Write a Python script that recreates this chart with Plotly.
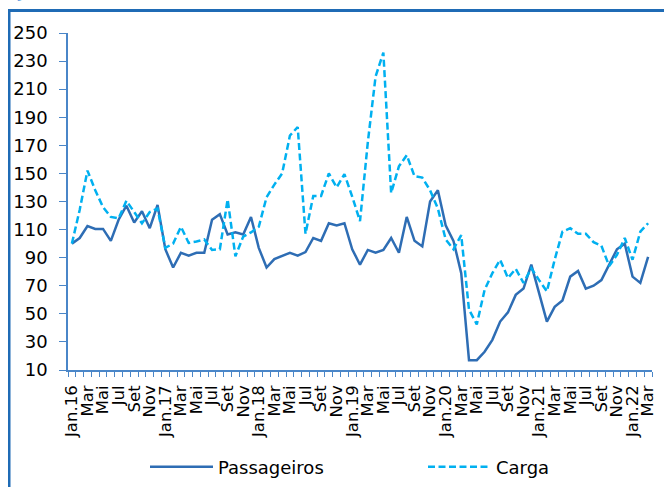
import plotly.graph_objects as go

# Monthly index values, Jan.2016 = 100
meses = ["Jan.16", "Mar", "Mai", "Jul", "Set", "Nov",
         "Jan.17", "Mar", "Mai", "Jul", "Set", "Nov",
         "Jan.18", "Mar", "Mai", "Jul", "Set", "Nov",
         "Jan.19", "Mar", "Mai", "Jul", "Set", "Nov",
         "Jan.20", "Mar", "Mai", "Jul", "Set", "Nov",
         "Jan.21", "Mar", "Mai", "Jul", "Set", "Nov",
         "Jan.22", "Mar"]

passageiros = [100, 104, 112.5, 110.5, 110.5, 102, 117, 127, 115, 123, 111, 127.5,
               96, 83, 93.5, 91.5, 93.5, 93.5, 117, 121, 106.5, 108, 106.5, 119,
               97, 83, 89, 91, 93.5, 91.5, 94, 104, 102, 114.5, 113, 114.5,
               96, 85, 95.5, 93.5, 95.5, 104, 93.5, 119, 102, 98, 130, 138,
               113, 102, 79, 17, 17, 23, 31.5, 44.5, 51, 63.5, 68, 85,
               65, 44.5, 55, 59.5, 76.5, 80.5, 68, 70, 74, 85, 96, 100,
               76.5, 72, 90.5]

carga = [100, 124, 152, 138, 126, 119, 118, 130.5, 122.5, 114.5, 122.5, 125,
         97, 100, 112, 100.5, 101.5, 103, 95.5, 96, 131.5, 91, 105, 108,
         112, 133, 142, 150, 177, 183, 107, 134, 134, 150, 140, 149.5,
         133.5, 116, 172, 219, 236, 136, 155, 163, 148, 147, 138, 125,
         103, 96, 106, 53, 42.5, 67, 79, 88.5, 75.5, 82, 72, 82.5,
         74, 66, 88.5, 108.5, 111, 107, 107, 101, 98.5, 84, 92, 104,
         88.5, 108.5, 114.5]

y_ticks = list(range(10, 251, 20))

n = len(passageiros)
x = list(range(n))
label_pos = list(range(0, n, 2))
boundaries = [k - 0.5 for k in range(n + 1)]

AXIS = "#4A86C8"
FRAME = "#1F6BB5"
FONT = "DejaVu Sans"

W, H = 664, 487
ML, MR, MT, MB = 68, 12, 33, 117
PW, PH = W - ML - MR, H - MT - MB


def px_x(p):
    return (p - ML) / PW


def px_y(p):
    return (H - MB - p) / PH


fig = go.Figure()
fig.add_trace(go.Scatter(x=x, y=passageiros, mode="lines", name="Passageiros",
                         legend="legend",
                         line=dict(color="#2E6DB4", width=2.5)))
fig.add_trace(go.Scatter(x=x, y=carga, mode="lines", name="Carga",
                         legend="legend2",
                         line=dict(color="#00B0F0", width=2.5, dash="7px,3.5px")))

legend_style = dict(orientation="h", xanchor="left", yanchor="middle",
                    y=px_y(467), itemwidth=63,
                    font=dict(family=FONT, size=18, color="black"),
                    bgcolor="rgba(0,0,0,0)")

fig.update_layout(
    width=W, height=H,
    margin=dict(l=ML, r=MR, t=MT, b=MB, autoexpand=False),
    paper_bgcolor="white", plot_bgcolor="white",
    font=dict(family=FONT, size=18, color="black"),
    showlegend=True,
    legend=dict(x=px_x(145), **legend_style),
    legend2=dict(x=px_x(423), **legend_style),
    xaxis=dict(range=[-0.5, n - 0.5], showgrid=False, zeroline=False,
               showline=True, linecolor=AXIS, linewidth=1.5,
               tickmode="array", tickvals=label_pos, ticktext=meses,
               tickangle=-90, ticks="", ticklabelstandoff=7,
               tickfont=dict(family=FONT, size=16.5, color="black"),
               minor=dict(tickmode="array", tickvals=boundaries,
                          ticks="outside", ticklen=5, tickcolor=AXIS,
                          tickwidth=1, showgrid=False)),
    yaxis=dict(range=[10, 250], showgrid=False, zeroline=False,
               showline=True, linecolor=AXIS, linewidth=1.5,
               tickmode="array", tickvals=y_ticks,
               ticks="outside", ticklen=7, tickcolor=AXIS, tickwidth=1,
               ticklabelstandoff=8,
               tickfont=dict(family=FONT, size=18, color="black")),
)

# Outer frame around the chart area (top and left edges)
fig.add_shape(type="rect", xref="paper", yref="paper",
              x0=px_x(8), x1=px_x(W + 5), y0=px_y(12), y1=px_y(9),
              line=dict(width=0), fillcolor=FRAME, layer="above")
fig.add_shape(type="rect", xref="paper", yref="paper",
              x0=px_x(8), x1=px_x(10.5), y0=px_y(H + 5), y1=px_y(9),
              line=dict(width=0), fillcolor=FRAME, layer="above")

# Subtitle above the frame
fig.add_annotation(text="(Jan.2016 = 100)", xref="paper", yref="paper",
                   x=px_x(9), y=px_y(4.5), xanchor="left", yanchor="bottom",
                   showarrow=False,
                   font=dict(family=FONT, size=20, color="#6A9FE0"))

fig.write_html("out.html", config={"displayModeBar": False})
